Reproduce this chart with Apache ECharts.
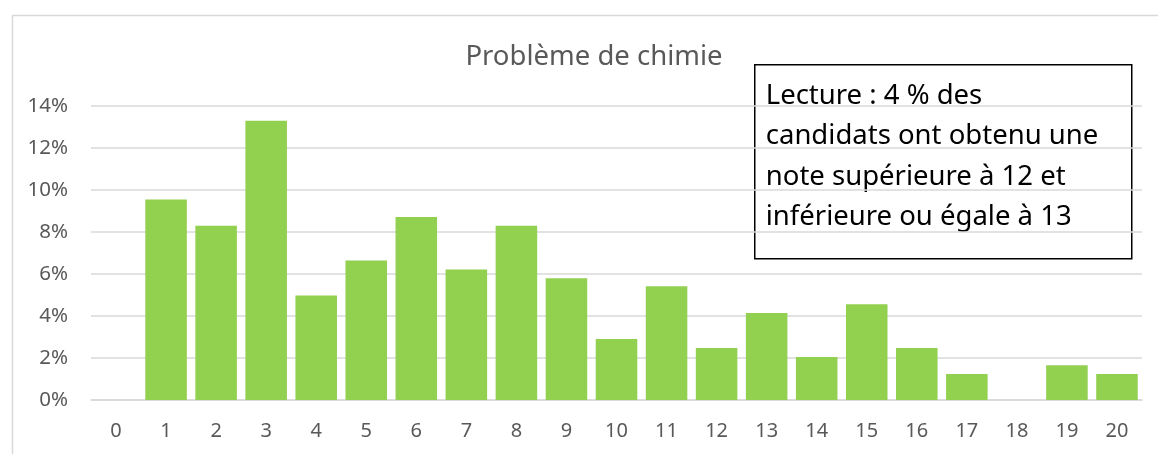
<!DOCTYPE html>
<html>
<head>
<meta charset="utf-8">
<script src="https://cdn.jsdelivr.net/npm/echarts@6/dist/echarts.min.js"></script>
<style>
  html, body { margin: 0; padding: 0; background: #fff; }
  #chart { width: 1158px; height: 454px; }
</style>
</head>
<body>
<div id="chart"></div>
<script>
const notes = ['0', '1', '2', '3', '4', '5', '6', '7', '8', '9', '10',
  '11', '12', '13', '14', '15', '16', '17', '18', '19', '20']
// share of candidates per grade, in %
const shares = [0, 9.55, 8.3, 13.3, 4.98, 6.64, 8.72, 6.22, 8.3, 5.8, 2.9,
  5.42, 2.48, 4.14, 2.05, 4.56, 2.48, 1.24, 0, 1.66, 1.24]
const titleText = 'Problème de chimie'
const noteLines = [
  'Lecture : 4 % des',
  'candidats ont obtenu une',
  'note supérieure à 12 et',
  'inférieure ou égale à 13'
]

const font = 'Noto Sans'
const chart = echarts.init(document.getElementById('chart'), null, { renderer: 'canvas' })

const option = {
  animation: false,
  backgroundColor: '#fff',
  title: {
    text: titleText,
    left: 589,
    top: 38,
    textAlign: 'center',
    textStyle: { color: '#595959', fontSize: 27.5, fontWeight: 'normal', fontFamily: font }
  },
  grid: { left: 91, right: 16, top: 106, bottom: 54 },
  xAxis: {
    type: 'category',
    data: notes,
    axisLine: { lineStyle: { color: '#d9d9d9', width: 1.5 } },
    axisTick: { show: false },
    axisLabel: { color: '#595959', fontSize: 20, fontFamily: font, margin: 21 }
  },
  yAxis: {
    type: 'value',
    min: 0,
    max: 14,
    interval: 2,
    axisLine: { show: false },
    axisTick: { show: false },
    splitLine: { lineStyle: { color: '#d9d9d9', width: 1.5 } },
    axisLabel: {
      color: '#595959', fontSize: 20.5, fontFamily: font, margin: 23,
      formatter: v => v + '%'
    }
  },
  series: [{
    type: 'bar',
    data: shares,
    barCategoryGap: '17%',
    itemStyle: { color: '#92d050' }
  }],
  graphic: [
    {
      type: 'rect',
      left: 10, top: 13,
      shape: { width: 1200, height: 500 },
      style: { fill: 'none', stroke: '#d9d9d9', lineWidth: 1.5 },
      silent: true
    },
    {
      type: 'group',
      left: 754, top: 64,
      z: 100,
      children: [
        {
          type: 'rect',
          shape: { width: 377, height: 194 },
          style: { fill: '#fff', stroke: '#000', lineWidth: 1.5 }
        },
        {
          type: 'text',
          left: 11, top: 11,
          style: {
            text: noteLines.join('\n'),
            fill: '#000',
            font: '27.5px "Noto Sans"',
            lineHeight: 40.5
          }
        }
      ]
    }
  ]
}
chart.setOption(option)
</script>
</body>
</html>
